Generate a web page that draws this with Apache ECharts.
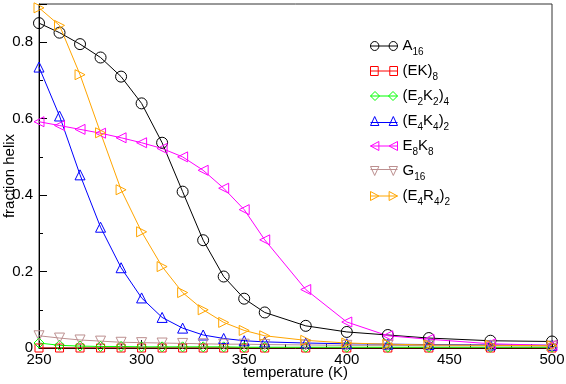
<!DOCTYPE html>
<html>
<head>
<meta charset="utf-8">
<script src="https://cdn.jsdelivr.net/npm/echarts@6/dist/echarts.min.js"></script>
<style>
  html, body { margin: 0; padding: 0; background: #fff; }
  #chart { width: 566px; height: 384px; }
</style>
</head>
<body>
<div id="chart"></div>
<script>
const temperature = [250, 260, 270, 280, 290, 300, 310, 320, 330, 340, 350, 360, 380, 400, 420, 440, 470, 500]

const a16    = [0.850, 0.825, 0.795, 0.760, 0.710, 0.640, 0.537, 0.409, 0.282, 0.187, 0.129, 0.093, 0.058, 0.042, 0.034, 0.026, 0.019, 0.017]
const ek8    = [0.000, 0.000, 0.000, 0.000, 0.000, 0.000, 0.000, 0.000, 0.000, 0.000, 0.000, 0.000, 0.000, 0.000, 0.000, 0.000, 0.000, 0.000]
const e2k2_4 = [0.013, 0.007, 0.005, 0.004, 0.004, 0.003, 0.003, 0.003, 0.003, 0.003, 0.002, 0.002, 0.002, 0.002, 0.002, 0.002, 0.002, 0.002]
const e4k4_2 = [0.735, 0.607, 0.453, 0.316, 0.210, 0.131, 0.080, 0.052, 0.034, 0.025, 0.019, 0.016, 0.013, 0.011, 0.010, 0.009, 0.008, 0.007]
const e8k8   = [0.592, 0.582, 0.572, 0.562, 0.550, 0.537, 0.522, 0.500, 0.465, 0.418, 0.362, 0.283, 0.153, 0.068, 0.032, 0.023, 0.011, 0.007]
const g16    = [0.032, 0.026, 0.021, 0.018, 0.015, 0.014, 0.013, 0.012, 0.011, 0.010, 0.010, 0.009, 0.008, 0.007, 0.007, 0.006, 0.006, 0.005]
const e4r4_2 = [0.890, 0.844, 0.715, 0.563, 0.414, 0.304, 0.213, 0.145, 0.100, 0.067, 0.046, 0.032, 0.020, 0.013, 0.010, 0.008, 0.007, 0.006]

// name, legend label (rich text), values, colour, symbol, rotate, legend icon
const SERIES = [
  ['A16',      '{m|A}{s|16}',                     a16,    '#000000', 'circle',   0,
    'path://M0.5,5a4.5,4.5 0 1,0 9,0a4.5,4.5 0 1,0 -9,0M20.5,5a4.5,4.5 0 1,0 9,0a4.5,4.5 0 1,0 -9,0M0.5,5L29.5,5'],
  ['(EK)8',    '{m|(EK)}{s|8}',                   ek8,    '#ff0000', 'rect',     0,
    'path://M1,1L9,1L9,9L1,9ZM21,1L29,1L29,9L21,9ZM1,5L29,5'],
  ['(E2K2)4',  '{m|(E}{s|2}{m|K}{s|2}{m|)}{s|4}', e2k2_4, '#00ff00', 'diamond',  0,
    'path://M0,5L5,0L10,5L5,10ZM20,5L25,0L30,5L25,10ZM0,5L30,5'],
  ['(E4K4)2',  '{m|(E}{s|4}{m|K}{s|4}{m|)}{s|2}', e4k4_2, '#0000ff', 'triangle', 0,
    'path://M0.5,9.5L5,0.5L9.5,9.5ZM20.5,9.5L25,0.5L29.5,9.5ZM0.5,6.5L29.5,6.5'],
  ['E8K8',     '{m|E}{s|8}{m|K}{s|8}',            e8k8,   '#ff00ff', 'triangle', 90,
    'path://M0.5,5L9.5,0.5L9.5,9.5ZM20.5,5L29.5,0.5L29.5,9.5ZM0.5,5L29.5,5'],
  ['G16',      '{m|G}{s|16}',                     g16,    '#bc8f8f', 'triangle', 180,
    'path://M0.5,0.5L9.5,0.5L5,9.5ZM20.5,0.5L29.5,0.5L25,9.5ZM0.5,3.5L29.5,3.5'],
  ['(E4R4)2',  '{m|(E}{s|4}{m|R}{s|4}{m|)}{s|2}', e4r4_2, '#ffa500', 'triangle', -90,
    'path://M0.5,0.5L9.5,5L0.5,9.5ZM20.5,0.5L29.5,5L20.5,9.5ZM0.5,5L29.5,5']
]

const SIZES = { circle: 11, rect: 8, diamond: 10, triangle: 10 }
const FONT = 'Liberation Sans, Arial, Helvetica, sans-serif'

const chart = echarts.init(document.getElementById('chart'), null, { renderer: 'canvas' })

const labelOf = {}
SERIES.forEach(s => { labelOf[s[0]] = s[1] })

const series = SERIES.map(([name, , values, color, symbol, rotate]) => ({
  name,
  type: 'line',
  data: temperature.map((t, i) => [t, values[i]]),
  symbol,
  symbolRotate: rotate,
  symbolSize: SIZES[symbol],
  showAllSymbol: true,
  lineStyle: { color, width: 1 },
  itemStyle: { color: 'rgba(0,0,0,0)', borderColor: color, borderWidth: 1 },
  emphasis: { disabled: true }
}))

const option = {
  animation: false,
  backgroundColor: '#fff',
  grid: {
    left: 39, right: 14, top: 4, bottom: 36,
    containLabel: false,
    outerBoundsMode: 'none',
    show: true, borderColor: '#333', borderWidth: 1, backgroundColor: 'transparent'
  },
  legend: {
    orient: 'vertical',
    left: 370,
    top: 35,
    padding: 0,
    itemWidth: 27,
    itemHeight: 9,
    itemGap: 3,
    symbolKeepAspect: false,
    data: SERIES.map(s => ({
      name: s[0],
      icon: s[6],
      itemStyle: { color: 'rgba(0,0,0,0)', borderColor: s[3], borderWidth: 1 }
    })),
    formatter: name => labelOf[name],
    textStyle: {
      fontFamily: FONT,
      color: '#000',
      rich: {
        m: { fontFamily: FONT, fontSize: 15, lineHeight: 22, color: '#000' },
        s: { fontFamily: FONT, fontSize: 10, lineHeight: 10, padding: [12, 0, 0, 0], color: '#000' }
      }
    }
  },
  xAxis: {
    type: 'value',
    min: 250,
    max: 500,
    interval: 50,
    name: 'temperature (K)',
    nameLocation: 'middle',
    nameGap: 17,
    nameMoveOverlap: false,
    nameTextStyle: { fontFamily: FONT, fontSize: 15, color: '#000', verticalAlign: 'top' },
    axisLine: { lineStyle: { color: '#000', width: 1 } },
    axisTick: { inside: true, length: 8, lineStyle: { color: '#000' } },
    minorTick: { show: true, splitNumber: 5, length: 4, lineStyle: { color: '#000' } },
    axisLabel: { fontFamily: FONT, fontSize: 15, color: '#000', margin: 4 },
    splitLine: { show: false }
  },
  yAxis: {
    type: 'value',
    min: 0,
    max: 0.9,
    interval: 0.2,
    name: 'fraction helix',
    nameLocation: 'middle',
    nameRotate: 90,
    nameGap: 22,
    nameMoveOverlap: false,
    nameTextStyle: { fontFamily: FONT, fontSize: 15, color: '#000' },
    axisLine: { lineStyle: { color: '#000', width: 1 } },
    axisTick: { inside: true, length: 8, lineStyle: { color: '#000' } },
    minorTick: { show: true, splitNumber: 2, length: 4, lineStyle: { color: '#000' } },
    axisLabel: { fontFamily: FONT, fontSize: 15, color: '#000', margin: 6, showMaxLabel: false },
    splitLine: { show: false }
  },
  series
}

chart.setOption(option)
</script>
</body>
</html>
